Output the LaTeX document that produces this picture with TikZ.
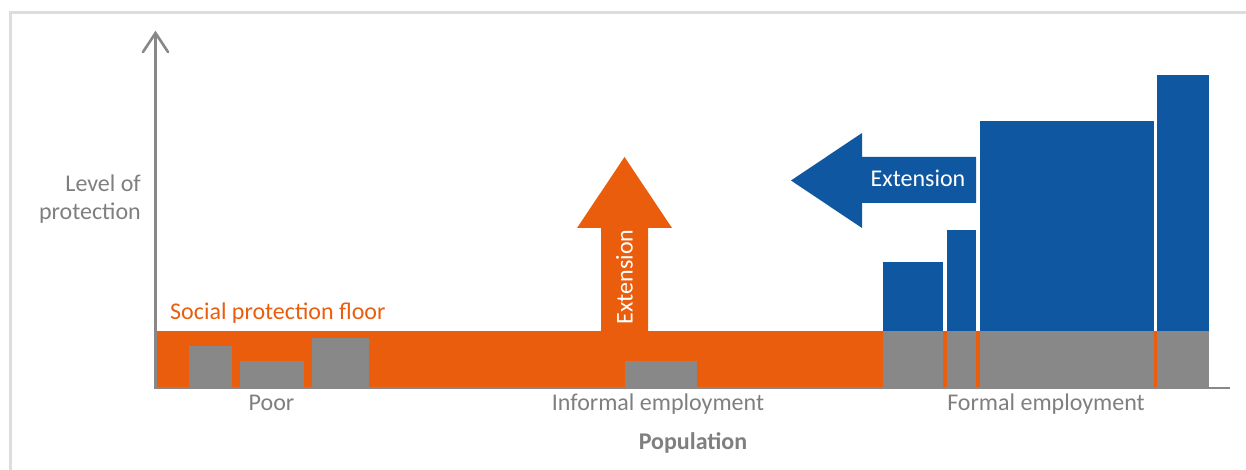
\documentclass[tikz,border=0pt]{standalone}
\usepackage{fontspec}
\setmainfont{Carlito}
\definecolor{ilored}{HTML}{EA5D0D}
\definecolor{iloblue}{HTML}{0F57A0}
\definecolor{bargray}{HTML}{888888}
\definecolor{txtgray}{HTML}{7F7F7F}
\definecolor{framegray}{HTML}{DDDDDD}
\begin{document}
\begin{tikzpicture}[x=1bp,y=-1bp,
  lbl/.style={font=\fontsize{24bp}{28bp}\selectfont, text=txtgray, inner sep=0pt, anchor=base},
  axisline/.style={draw=bargray, line width=2.6bp},
  grayfill/.style={fill=bargray},
  orangefill/.style={fill=ilored},
  bluefill/.style={fill=iloblue}]
\useasboundingbox (0,0) rectangle (1246,470);
% frame
\draw[framegray, line width=3bp] (10.5,470) -- (10.5,13) -- (1246,13);
% orange floor band
\fill[orangefill] (157,331) rectangle (1157,387);
% poor bars
\fill[grayfill] (189,346) rectangle (232,387);
\fill[grayfill] (240,361) rectangle (304,387);
\fill[grayfill] (312,338) rectangle (369,387);
% informal bar
\fill[grayfill] (625,361) rectangle (697,387);
% formal gray segments
\fill[grayfill] (883,331) rectangle (943,387);
\fill[grayfill] (947,331) rectangle (976,387);
\fill[grayfill] (980,331) rectangle (1154,387);
\fill[grayfill] (1157,331) rectangle (1209,387);
% blue bars
\fill[bluefill] (883,262) rectangle (943,331);
\fill[bluefill] (947,230) rectangle (976,331);
\fill[bluefill] (980,121) rectangle (1154,331);
\fill[bluefill] (1157,75) rectangle (1209,331);
% up arrow
\fill[orangefill] (601,331) -- (601,228) -- (577,228) -- (624.5,157) -- (672,228) -- (648,228) -- (648,331) -- cycle;
% left arrow
\fill[bluefill] (976,157) -- (862,157) -- (862,133) -- (791,180.5) -- (862,228) -- (862,203) -- (976,203) -- cycle;
% axes
\coordinate (org) at (155.5,388);
\coordinate (ytop) at (155.5,33);
\coordinate (xend) at (1230,388);
\draw[axisline] (ytop) -- (org) -- (xend);
\draw[axisline, line cap=round, line join=miter] (143,52) -- (ytop) -- (168,52);
% labels
\node[lbl, anchor=base east] (lev1) at (141,191.5) {Level of};
\node[lbl, anchor=base east] (lev2) at (141,220) {protection};
\node[lbl, text=ilored, anchor=base west] (spf) at (170,320) {Social protection floor};
\node[lbl] (poor) at (271.5,411) {Poor};
\node[lbl] (inf) at (658,411) {Informal employment};
\node[lbl] (form) at (1046,411) {Formal employment};
\node[lbl, font=\fontsize{24bp}{28bp}\selectfont\bfseries] (pop) at (693,450) {Population};
\node[lbl, text=white] (ext1) at (918,187) {Extension};
\node[lbl, text=white, anchor=center, rotate=90] (ext2) at (624.5,277) {Extension};
\end{tikzpicture}
\end{document}
